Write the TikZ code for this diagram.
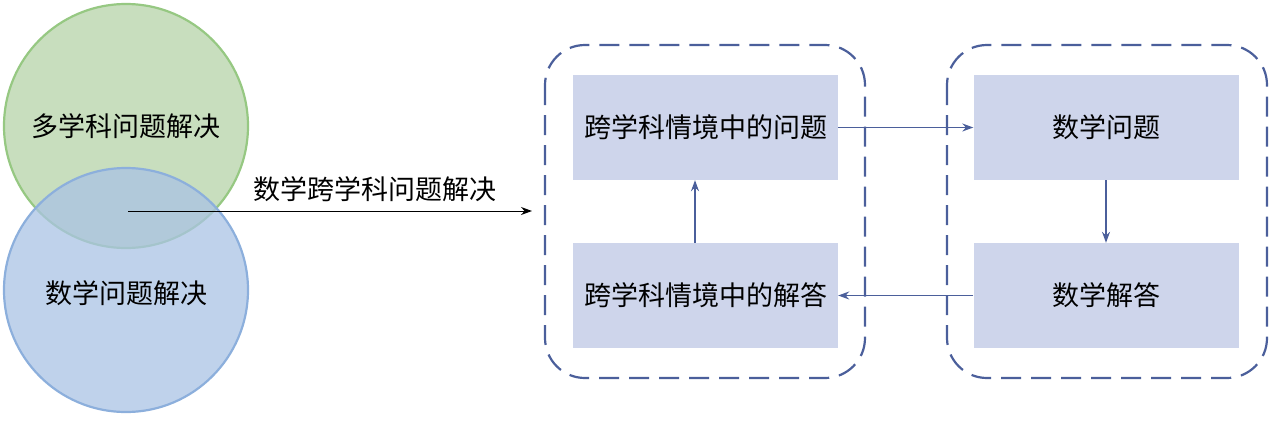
\documentclass[tikz,border=0pt]{standalone}
\usepackage{fontspec}
\setmainfont{Noto Sans CJK SC}
\usetikzlibrary{arrows.meta}
\definecolor{gfill}{RGB}{200,222,190}
\definecolor{gedge}{RGB}{150,200,130}
\definecolor{bfill}{RGB}{170,195,228}
\definecolor{bedge}{RGB}{140,175,220}
\definecolor{dk}{RGB}{75,95,155}
\definecolor{rf}{RGB}{206,213,235}
\begin{document}
\begin{tikzpicture}[x=1pt,y=-1pt,
  lbl/.style={font=\fontsize{27}{30}\selectfont},
  rbox/.style={fill=rf,minimum width=265pt,minimum height=105pt,inner sep=0pt,font=\fontsize{27}{30}\selectfont},
  dbox/.style={draw=dk,line width=2.2pt,dash pattern=on 20pt off 10pt,rounded corners=40pt},
  arr/.style={dk,line width=1.2pt,-{Stealth[length=11pt,width=8pt]}}]
\useasboundingbox (0,0) rectangle (1274,421);
\fill[gfill] (126,126) circle (122);
\draw[gedge,line width=2.2pt] (126,126) circle (122);
\fill[bfill,fill opacity=0.75] (126,290) circle (122);
\draw[bedge,line width=2.2pt] (126,290) circle (122);
\node[lbl] (g) at (126,126) {多学科问题解决};
\node[lbl] (b) at (126,293) {数学问题解决};
\coordinate (s) at (128,211);
\coordinate (e) at (532,211);
\draw[line width=1pt,-{Stealth[length=11pt,width=8pt]}] (s) -- (e);
\node[lbl] (t) at (375,189) {数学跨学科问题解决};
\draw[dbox] (545,45) rectangle (865,378);
\draw[dbox] (947,45) rectangle (1267,378);
\node[rbox] (a1) at (705.5,127.5) {跨学科情境中的问题};
\node[rbox] (a2) at (705.5,295.5) {跨学科情境中的解答};
\node[rbox] (c1) at (1106,127.5) {数学问题};
\node[rbox] (c2) at (1106,295.5) {数学解答};
\draw[arr] (a1.east) -- (c1.west);
\draw[arr] (c1.south) -- (c2.north);
\draw[arr] (c2.west) -- (a2.east);
\draw[arr] (a2.north -| 695,0) -- (a1.south -| 695,0);
\end{tikzpicture}
\end{document}
